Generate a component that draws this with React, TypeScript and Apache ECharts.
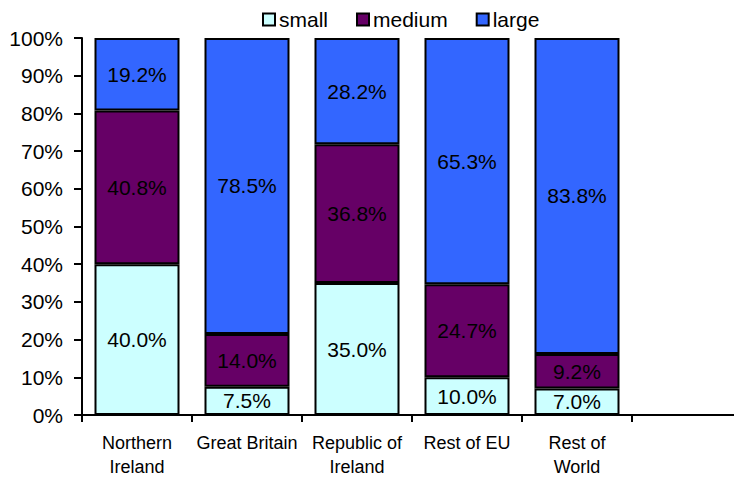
import React, { useEffect, useRef } from "react";
import * as echarts from "echarts";

const categories = ["Northern\nIreland", "Great Britain", "Republic of\nIreland", "Rest of EU", "Rest of\nWorld", ""];
const smallValues = [40.0, 7.5, 35.0, 10.0, 7.0];
const mediumValues = [40.8, 14.0, 36.8, 24.7, 9.2];
const largeValues = [19.2, 78.5, 28.2, 65.3, 83.8];
const seriesNames = ["small", "medium", "large"];
const seriesColors = ["#CCFFFF", "#660066", "#3366FF"];

const FONT = "'Liberation Sans', Arial, sans-serif";

export default function App() {
  const ref = useRef<HTMLDivElement>(null);
  useEffect(() => {
    if (!ref.current) return;
    const chart = echarts.init(ref.current, undefined, { renderer: "svg" });
    const values = [smallValues, mediumValues, largeValues];
    chart.setOption({
      animation: false,
      backgroundColor: "#ffffff",
      textStyle: { fontFamily: FONT, color: "#000" },
      legend: {
        left: 262,
        top: 9,
        padding: 0,
        icon: "rect",
        itemWidth: 12,
        itemHeight: 12,
        itemGap: 28,
        itemStyle: { borderColor: "#000", borderWidth: 2 },
        textStyle: { fontFamily: FONT, fontSize: 21, color: "#000", padding: [0, 0, 0, -1] },
        data: seriesNames,
      },
      grid: { left: 82, top: 38, width: 660, height: 377, outerBoundsMode: "none" },
      xAxis: {
        type: "category",
        data: categories,
        axisLine: { lineStyle: { color: "#000", width: 2 } },
        axisTick: { show: true, interval: 0, length: 7, lineStyle: { color: "#000", width: 2 } },
        axisLabel: { interval: 0, fontFamily: FONT, fontSize: 18, lineHeight: 24, color: "#000", margin: 16 },
      },
      yAxis: {
        type: "value",
        min: 0,
        max: 100,
        interval: 10,
        splitLine: { show: false },
        axisLine: { show: true, lineStyle: { color: "#000", width: 2 } },
        axisTick: { show: true, length: 8, lineStyle: { color: "#000", width: 2 } },
        axisLabel: { formatter: "{value}%", fontFamily: FONT, fontSize: 21, color: "#000", margin: 19 },
      },
      series: seriesNames.map((name, i) => ({
        name,
        type: "bar",
        stack: "total",
        barWidth: 85,
        data: values[i],
        itemStyle: { color: seriesColors[i], borderColor: "#000", borderWidth: 2 },
        label: {
          show: true,
          position: "inside",
          fontFamily: FONT,
          fontSize: 21,
          color: "#000",
          formatter: (p: any) => Number(p.value).toFixed(1) + "%",
        },
      })),
    });
    return () => chart.dispose();
  }, []);
  return <div ref={ref} style={{ position: "fixed", left: 0, top: 0, width: 734, height: 478 }} />;
}
